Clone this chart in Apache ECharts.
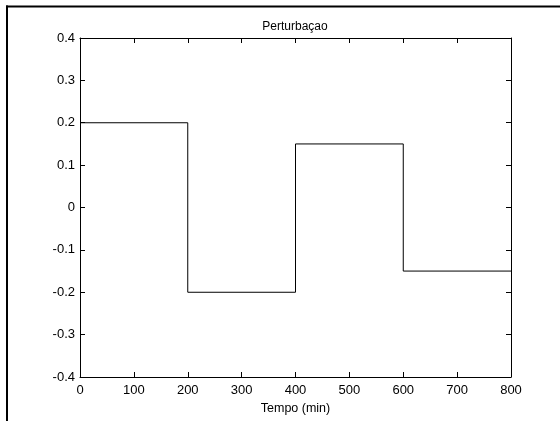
<!DOCTYPE html>
<html>
<head>
<meta charset="utf-8">
<script src="https://cdn.jsdelivr.net/npm/echarts@6/dist/echarts.min.js"></script>
<style>html,body{margin:0;padding:0;background:#fff}#c{width:560px;height:421px}</style>
</head>
<body>
<div id="c"></div>
<script>
var titleText = 'Perturbaçao';
var xName = 'Tempo (min)';
var stepTimes = [0, 200, 400, 600, 800];
var stepLevels = [0.2, -0.2, 0.15, -0.15, -0.15];
var xTicks = [0, 100, 200, 300, 400, 500, 600, 700, 800];
var yTicks = [-0.4, -0.3, -0.2, -0.1, 0, 0.1, 0.2, 0.3, 0.4];

var data = stepTimes.map(function (t, i) { return [t, stepLevels[i]]; });
var font = 'Arial, "Liberation Sans", sans-serif';
var chart = echarts.init(document.getElementById('c'), null, {renderer: 'canvas'});
function fmtY(v) { return (Math.round(v * 10) / 10).toString(); }
var axisLineStyle = {show: true, onZero: false, lineStyle: {color: '#000', width: 1}};
var tickStyle = {show: true, inside: true, length: 5, lineStyle: {color: '#000', width: 1}};
chart.setOption({
  animation: false,
  backgroundColor: '#fff',
  title: {
    text: titleText, left: 295, top: 21, textAlign: 'center', padding: 0,
    textStyle: {fontFamily: font, fontSize: 12, fontWeight: 'normal', color: '#000'}
  },
  grid: {left: 80, right: 49, top: 38, bottom: 44, show: false},
  xAxis: [{
    type: 'value', min: xTicks[0], max: xTicks[xTicks.length - 1], interval: 100,
    position: 'bottom',
    name: xName, nameLocation: 'middle', nameGap: 24,
    nameTextStyle: {fontFamily: font, fontSize: 12.5, color: '#000'},
    axisLine: axisLineStyle, axisTick: tickStyle,
    axisLabel: {fontFamily: font, fontSize: 13, color: '#000', margin: 7},
    splitLine: {show: false}
  }, {
    type: 'value', min: xTicks[0], max: xTicks[xTicks.length - 1], interval: 100,
    position: 'top',
    axisLine: axisLineStyle, axisTick: tickStyle,
    axisLabel: {show: false}, splitLine: {show: false}
  }],
  yAxis: [{
    type: 'value', min: yTicks[0], max: yTicks[yTicks.length - 1], interval: 0.1,
    position: 'left',
    axisLine: axisLineStyle, axisTick: tickStyle,
    axisLabel: {fontFamily: font, fontSize: 13, color: '#000', margin: 5, formatter: fmtY},
    splitLine: {show: false}
  }, {
    type: 'value', min: yTicks[0], max: yTicks[yTicks.length - 1], interval: 0.1,
    position: 'right',
    axisLine: axisLineStyle, axisTick: tickStyle,
    axisLabel: {show: false}, splitLine: {show: false}
  }],
  graphic: [
    {type: 'line', shape: {x1: 6, y1: 6.5, x2: 560, y2: 6.5}, style: {stroke: '#000', lineWidth: 2}},
    {type: 'line', shape: {x1: 7, y1: 5.5, x2: 7, y2: 421}, style: {stroke: '#000', lineWidth: 2}}
  ],
  series: [{
    type: 'line', step: 'end', data: data, xAxisIndex: 0, yAxisIndex: 0,
    symbol: 'none', lineStyle: {color: '#000', width: 1}
  }]
});
</script>
</body>
</html>
